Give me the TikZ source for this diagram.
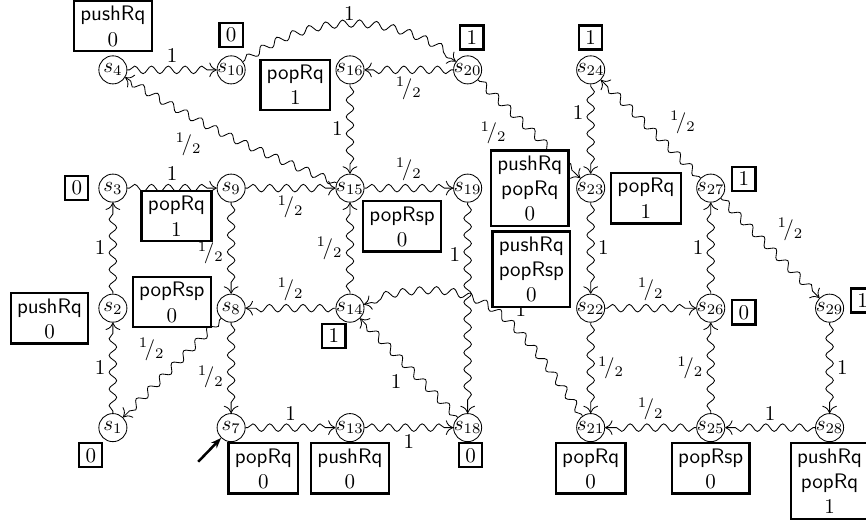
\documentclass[tikz,border=0pt]{standalone}
\usepackage{amsmath}
\usetikzlibrary{positioning}
\usetikzlibrary{arrows.meta}
\usetikzlibrary{decorations.pathmorphing}

\newcommand{\hf}{${}^{1}\!/{}_{2}$}

\tikzset{
	state/.style = {draw, circle, minimum size = 0.47cm, inner sep = 0pt},
	prop/.style = {draw, rectangle, line width = 1.1pt, fill = white, align = center, inner xsep = 3pt, inner ysep = 2.5pt},
	wave/.style = {->, decorate, decoration = {snake, amplitude = 1.8pt, segment length = 8pt, pre length = 1pt, post length = 2.5pt}}
}

\begin{document}
\begin{tikzpicture}[>={To[length=3.5pt,width=7pt]}]
		\useasboundingbox (0,0) rectangle (14.50,-8.76);
		% states
		\node[state] at (1.89,-1.17) (s4) {\makebox[0pt]{$s_{4}$}};
		\node[state] at (3.87,-1.17) (s10) {\makebox[0pt]{$s_{10}$}};
		\node[state] at (5.86,-1.17) (s16) {\makebox[0pt]{$s_{16}$}};
		\node[state] at (7.83,-1.17) (s20) {\makebox[0pt]{$s_{20}$}};
		\node[state] at (9.89,-1.17) (s24) {\makebox[0pt]{$s_{24}$}};
		\node[state] at (1.89,-3.15) (s3) {\makebox[0pt]{$s_{3}$}};
		\node[state] at (3.87,-3.15) (s9) {\makebox[0pt]{$s_{9}$}};
		\node[state] at (5.86,-3.15) (s15) {\makebox[0pt]{$s_{15}$}};
		\node[state] at (7.83,-3.15) (s19) {\makebox[0pt]{$s_{19}$}};
		\node[state] at (9.89,-3.15) (s23) {\makebox[0pt]{$s_{23}$}};
		\node[state] at (11.90,-3.15) (s27) {\makebox[0pt]{$s_{27}$}};
		\node[state] at (1.89,-5.16) (s2) {\makebox[0pt]{$s_{2}$}};
		\node[state] at (3.87,-5.16) (s8) {\makebox[0pt]{$s_{8}$}};
		\node[state] at (5.86,-5.16) (s14) {\makebox[0pt]{$s_{14}$}};
		\node[state] at (9.89,-5.16) (s22) {\makebox[0pt]{$s_{22}$}};
		\node[state] at (11.90,-5.16) (s26) {\makebox[0pt]{$s_{26}$}};
		\node[state] at (13.89,-5.16) (s29) {\makebox[0pt]{$s_{29}$}};
		\node[state] at (1.89,-7.16) (s1) {\makebox[0pt]{$s_{1}$}};
		\node[state] at (3.87,-7.16) (s7) {\makebox[0pt]{$s_{7}$}};
		\node[state] at (5.86,-7.16) (s13) {\makebox[0pt]{$s_{13}$}};
		\node[state] at (7.83,-7.16) (s18) {\makebox[0pt]{$s_{18}$}};
		\node[state] at (9.89,-7.16) (s21) {\makebox[0pt]{$s_{21}$}};
		\node[state] at (11.90,-7.16) (s25) {\makebox[0pt]{$s_{25}$}};
		\node[state] at (13.89,-7.16) (s28) {\makebox[0pt]{$s_{28}$}};
		% initial state
		\coordinate[below left = 0.4cm and 0.38cm of s7] (start);
		\draw[-{Stealth[length=5pt]}, line width = 1.2pt] (start) -- (s7);
		% transitions
		\draw[wave] (s4) -- node[above] {$1$} (s10);
		\draw[wave] (s10) to[bend left=35] node[above=-1pt] {$1$} (s20);
		\draw[wave] (s20) -- node[below] {\hf} (s16);
		\draw[wave] (s20) -- node[pos=0.35, below left] {\hf} (s23);
		\draw[wave] (s16) -- node[left] {$1$} (s15);
		\draw[wave] (s15) to[bend left=5] node[pos=0.6, below left] {\hf} (s4);
		\draw[wave] (s24) -- node[pos=0.32, left] {$1$} (s23);
		\draw[wave] (s27) -- node[pos=0.38, above right] {\hf} (s24);
		\draw[wave] (s3) -- node[above] {$1$} (s9);
		\draw[wave] (s9) -- node[below] {\hf} (s15);
		\draw[wave] (s9) -- node[pos=0.55, left] {\hf} (s8);
		\draw[wave] (s15) -- node[above] {\hf} (s19);
		\draw[wave] (s14) -- node[left] {\hf} (s15);
		\draw[wave] (s19) -- node[pos=0.25, left] {$1$} (s18);
		\draw[wave] (s23) -- node[right] {$1$} (s22);
		\draw[wave] (s27) -- node[above right] {\hf} (s29);
		\draw[wave] (s2) -- node[left] {$1$} (s3);
		\draw[wave] (s14) -- node[above] {\hf} (s8);
		\draw[wave] (s22) -- node[above] {\hf} (s26);
		\draw[wave] (s26) -- node[left] {$1$} (s27);
		\draw[wave] (s29) -- node[right] {$1$} (s28);
		\draw[wave] (s1) -- node[left] {$1$} (s2);
		\draw[wave] (s8) -- node[above left] {\hf} (s1);
		\draw[wave] (s8) -- node[pos=0.6, left] {\hf} (s7);
		\draw[wave] (s18) -- node[below left] {$1$} (s14);
		\draw[wave] (s21) to[out=125, in=15, looseness=1.3] node[pos=0.5, right=8pt] {$1$} (s14);
		\draw[wave] (s22) -- node[right] {\hf} (s21);
		\draw[wave] (s25) -- node[left] {\hf} (s26);
		\draw[wave] (s25) -- node[above] {\hf} (s21);
		\draw[wave] (s28) -- node[above] {$1$} (s25);
		\draw[wave] (s7) -- node[above] {$1$} (s13);
		\draw[wave] (s13) -- node[below] {$1$} (s18);
		% labels of the states
		\node[prop, above = 0.05cm of s4] (l4) {\textsf{pushRq}\\$0$};
		\node[prop, above = 0.12cm of s10] (l10) {$0$};
		\node[prop, left = 0.07cm of s16, yshift = -0.25cm] (l16) {\textsf{popRq}\\$1$};
		\node[prop, above = 0.08cm of s20, xshift = 0.07cm] (l20) {$1$};
		\node[prop, above = 0.08cm of s24] (l24) {$1$};
		\node[prop, left = 0.15cm of s3] (l3) {$0$};
		\node[prop, left = 0.07cm of s9, yshift = -0.47cm] (l9) {\textsf{popRq}\\$1$};
		\node[prop, below right = 0.03cm and 0.03cm of s15] (l15) {\textsf{popRsp}\\$0$};
		\node[prop, right = 0.13cm of s19] (l19) {\textsf{pushRq}\\\textsf{popRq}\\$0$};
		\node[prop, left = 0.08cm of s22, yshift = 0.65cm] (l22) {\textsf{pushRq}\\\textsf{popRsp}\\$0$};
		\node[prop, right = 0.08cm of s23, yshift = -0.17cm] (l23) {\textsf{popRq}\\$1$};
		\node[prop, right = 0.1cm of s27, yshift = 0.15cm] (l27) {$1$};
		\node[prop, right = 0.1cm of s26, yshift = -0.07cm] (l26) {$0$};
		\node[prop, right = 0.1cm of s29, yshift = 0.13cm] (l29) {$1$};
		\node[prop, left = 0.15cm of s2, yshift = -0.17cm] (l2) {\textsf{pushRq}\\$0$};
		\node[prop, left = 0.08cm of s8, yshift = 0.1cm] (l8) {\textsf{popRsp}\\$0$};
		\node[prop, below = 0cm of s14, xshift = -0.27cm] (l14) {$1$};
		\node[prop, below = 0cm of s1, xshift = -0.37cm] (l1) {$0$};
		\node[prop, below = 0cm of s7, xshift = 0.54cm] (l7) {\textsf{popRq}\\$0$};
		\node[prop, below = 0cm of s13] (l13) {\textsf{pushRq}\\$0$};
		\node[prop, below = 0cm of s18, xshift = 0.05cm] (l18) {$0$};
		\node[prop, below = 0cm of s21] (l21) {\textsf{popRq}\\$0$};
		\node[prop, below = 0cm of s25] (l25) {\textsf{popRsp}\\$0$};
		\node[prop, below = 0cm of s28] (l28) {\textsf{pushRq}\\\textsf{popRq}\\$1$};
	\end{tikzpicture}
\end{document}
